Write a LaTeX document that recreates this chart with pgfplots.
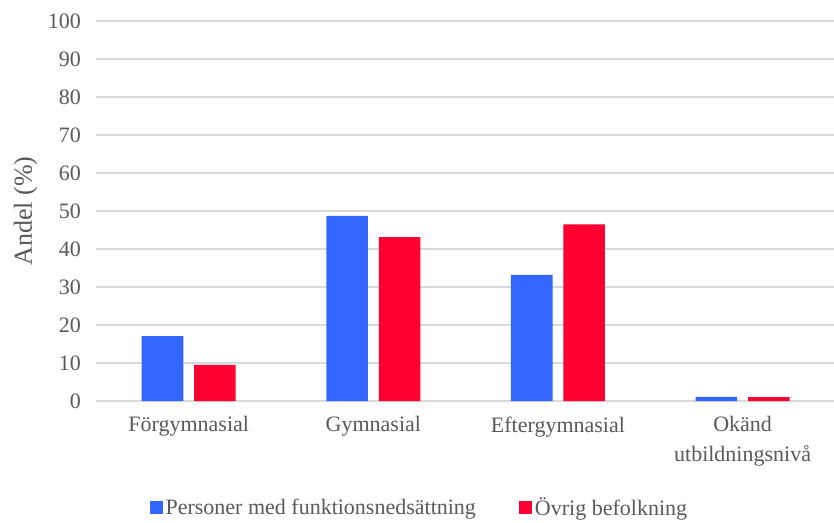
\documentclass[border=0pt]{standalone}
\usepackage{pgfplots}
\pgfplotsset{compat=1.18}
\usepackage{fontspec}
\setmainfont{Liberation Serif}
\definecolor{blueA}{HTML}{3366FF}
\definecolor{redA}{HTML}{FF0033}
\definecolor{gridc}{HTML}{D9D9D9}
\definecolor{txt}{HTML}{595959}
\begin{document}
\begin{tikzpicture}[font=\fontsize{22}{30}\selectfont]
  \useasboundingbox (-96.4pt,-121pt) rectangle (737.6pt,401pt);
  \begin{axis}[
      at={(0pt,0pt)}, anchor=south west,
      scale only axis,
      width=738.5pt, height=380pt,
      xmin=-0.5, xmax=3.5,
      ymin=0, ymax=100,
      ytick distance=10,
      xtick={0,1,2,3},
      xticklabels={Förgymnasial, Gymnasial, Eftergymnasial, {Okänd\\utbildningsnivå}},
      xticklabel style={align=center, text=txt, yshift=-12pt},
      yticklabel style={text=txt, xshift=-12pt},
      /pgf/number format/assume math mode=true,
      axis line style={draw=none},
      major tick style={draw=none},
      ymajorgrids,
      grid style={gridc, line width=1.2pt},
      ylabel={Andel (\%)},
      every axis y label/.style={at={(axis description cs:-0.096,0.5)}, rotate=90, anchor=center, text=txt, font=\fontsize{26}{30}\selectfont},
      legend style={at={(axis description cs:0.438,-0.279)}, anchor=center, draw=none, fill=none, legend columns=2, text=txt,
        /tikz/every even column/.append style={column sep=40pt},
        nodes={inner xsep=3pt}},
      legend image code/.code={\fill[#1, draw=none] (0pt,-6.5pt) rectangle (13pt,6.5pt);},
    ]
    \addplot[ybar, fill=blueA, draw=none, bar width=0.225, bar shift=-0.142] coordinates {
      (0, 17.1)
      (1, 48.7)
      (2, 33.2)
      (3, 1.1)
    };
    \addplot[ybar, fill=redA, draw=none, bar width=0.225, bar shift=0.142] coordinates {
      (0, 9.5)
      (1, 43.1)
      (2, 46.5)
      (3, 1.0)
    };
    \legend{Personer med funktionsnedsättning, Övrig befolkning}
  \end{axis}
\end{tikzpicture}
\end{document}
